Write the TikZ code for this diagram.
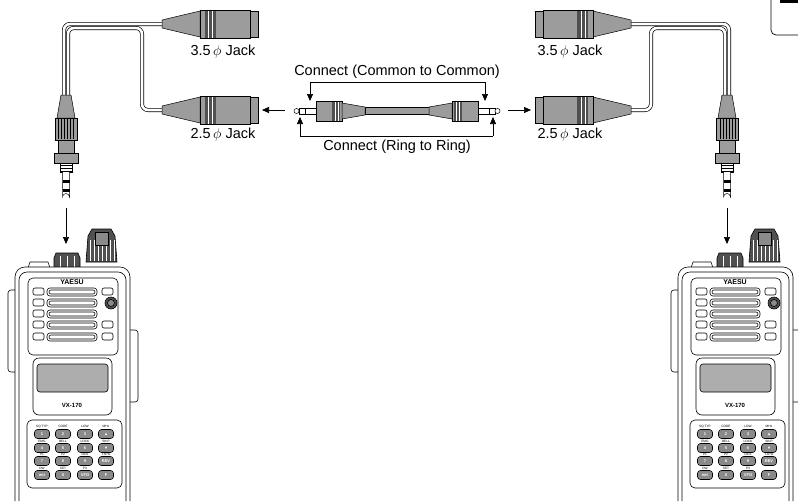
\documentclass[tikz,border=0pt]{standalone}
\usepackage{fontspec}
\setmainfont{Liberation Sans}
\usepackage{amssymb}
\usetikzlibrary{arrows.meta}
\definecolor{jg}{HTML}{9C9C9C}
\definecolor{jd}{HTML}{505050}
\definecolor{kg}{HTML}{8A8A8A}
\tikzset{
 cable/.style={draw=black,line width=0.7pt,double=white,double distance=2.6pt,rounded corners=6pt},
 part/.style={draw=black,line width=0.5pt,fill=jg},
 lab/.style={font=\fontsize{14.5}{16}\selectfont,inner sep=0pt},
 arr/.style={-{Triangle[length=7pt,width=6pt]},line width=0.7pt},
 ol/.style={draw=black,line width=0.6pt},
 key/.style={draw=black,line width=0.6pt,fill=kg,rounded corners=3pt,minimum width=15pt,minimum height=9pt,inner sep=0pt,font=\fontsize{4}{4}\selectfont\bfseries,text=white},
 klab/.style={font=\fontsize{3.2}{3}\selectfont,inner sep=0pt},
}
\newcommand\femjack[1]{% y center
 \draw[part] (162,#1-4) -- (200,#1-13) -- (200,#1+13) -- (162,#1+4) -- cycle;
 \draw[part] (200,#1-14) rectangle (250,#1+14);
 \fill[jd] (205,#1-14) rectangle (216,#1+14);
 \draw[white,line width=0.4pt] (208,#1-14)--(208,#1+14) (212,#1-14)--(212,#1+14);
 \draw[part] (250,#1-13) rectangle (258,#1+13);
 \draw[black,line width=0.5pt] (200,#1-14) rectangle (250,#1+14);
}
\newcommand\yassembly{%
 \draw[cable] (68,96) -- (68,28) -- (142,28) -- (142,110) -- (163,110);
 \draw[cable] (64,96) -- (64,24) -- (163,24);
 \femjack{24}
 \femjack{110}
 % plug
 \draw[part] (61,95) -- (71,95) -- (75,118) -- (57,118) -- cycle;
 \draw[part] (55,118) rectangle (77,140);
 \foreach \i in {58,61,...,75} \draw[line width=0.4pt] (\i,119)--(\i,139);
 \draw[part] (58,140) rectangle (74,153);
 \draw[part] (54,153) rectangle (78,163);
 \draw[line width=0.5pt,fill=white] (60,163) rectangle (72,172);
 \foreach \i in {165,168,171} \draw[line width=0.4pt] (60,\i)--(72,\i);
 \draw[line width=0.5pt,fill=white] (62.5,172) -- (62.5,197) arc[start angle=180,end angle=360,radius=3.5] -- (69.5,172);
 \fill (62.5,180) rectangle (69.5,183);
 \fill (62.5,189) rectangle (69.5,192);
 % arrows between jacks
 \draw[arr] (285,110) -- (262,110);
}
\newcommand\cplug{%
 \draw[line width=0.5pt,fill=white] (299,108) rectangle (316,114);
 \draw[line width=0.5pt,fill=white] (296.5,111) circle (2.5);
 \draw[line width=0.9pt] (305,108)--(305,114);
 \draw[part] (316,101) rectangle (342,121);
 \fill[jd] (332,101) rectangle (340,121);
 \draw[white,line width=0.4pt] (335,101)--(335,121) (338,101)--(338,121);
 \draw[line width=0.5pt] (316,101) rectangle (342,121);
 \draw[part] (342,103) -- (365,107) -- (365,115) -- (342,119) -- cycle;
}
\newcommand\radio{%
 \draw[ol,fill=jd] (88,236) -- (92,229) -- (111,229) -- (115,236) -- (117,262) -- (86,262) -- cycle;
 \foreach \i in {90,94,...,114} \draw[white,line width=0.5pt] (\i,240)--(\i,261);
 \draw[ol,fill=kg] (95,232) rectangle (108,245);
 \draw[ol,fill=jd] (54,258) -- (56,253) -- (78,253) -- (80,258) -- (80,268) -- (54,268) -- cycle;
 \draw[white,line width=0.5pt] (60,256)--(60,267) (67,256)--(67,267) (74,256)--(74,267);
 \draw[ol,fill=white] (28,268) -- (30,262) -- (48,262) -- (50,268) -- cycle;
 \draw[ol,fill=white,rounded corners=3pt] (8,290) rectangle (20,372);
 \draw[ol,fill=white,rounded corners=3pt] (126,330) rectangle (138,402);
 \draw[ol,fill=white,rounded corners=10pt] (15,501) -- (15,267) -- (130,267) -- (130,501);
 \draw[ol,rounded corners=8pt] (19,501) -- (19,272) -- (126,272) -- (126,501);
 \draw[ol,rounded corners=5pt] (28,278) rectangle (118,355);
 \node[font=\fontsize{7}{7}\selectfont\bfseries,inner sep=0pt] (ya) at (72,282) {YAESU};
 \foreach \y in {288,299,310,321,333} {
   \draw[ol,rounded corners=3pt] (47,\y) rectangle (97,\y+8);
   \draw[ol,rounded corners=2pt] (49,\y+2) rectangle (95,\y+6);
   \draw[ol,rounded corners=2pt] (33,\y) rectangle (44,\y+7);
 }
 \foreach \y in {288,321,333} \draw[ol,rounded corners=2pt] (102,\y) rectangle (113,\y+7);
 \draw[ol,fill=jd] (111,303) circle (6);
 \draw[ol,fill=kg] (111,303) circle (3.5);
 \draw[ol,rounded corners=6pt] (33,358) rectangle (112,415);
 \draw[ol,fill=kg!70,rounded corners=3pt] (37,364) rectangle (108,392);
 \node[font=\fontsize{6}{6}\selectfont\bfseries,inner sep=0pt] (vx) at (72,405) {VX-170};
 \draw[ol,rounded corners=5pt] (27,420) rectangle (122,488);
 \node[key] (k1) at (42,434) {1}; \node[key] (k2) at (63,434) {2}; \node[key] (k3) at (85,434) {3}; \node[key] (k4) at (106,434) {$\blacktriangle$};
 \node[key] (k5) at (42,448) {4}; \node[key] (k6) at (63,448) {5}; \node[key] (k7) at (85,448) {6}; \node[key] (k8) at (106,448) {$\blacktriangledown$};
 \node[key] (k9) at (42,461) {7}; \node[key] (k10) at (63,461) {8}; \node[key] (k11) at (85,461) {9}; \node[key] (k12) at (106,461) {REV};
 \node[key] (k13) at (42,475) {ent}; \node[key] (k14) at (63,475) {0}; \node[key] (k15) at (85,475) {VFO}; \node[key] (k16) at (106,475) {F};
 \node[klab] (l1) at (42,426.5) {SQ TYP}; \node[klab] (l2) at (63,426.5) {CODE}; \node[klab] (l3) at (85,426.5) {LOW}; \node[klab] (l4) at (106,426.5) {MHz};
 \node[klab] (l5) at (42,441) {EMG}; \node[klab] (l6) at (63,441) {BELL}; \node[klab] (l7) at (85,441) {LOCK}; \node[klab] (l8) at (106,441) {SKIP};
 \node[klab] (l9) at (42,454.5) {P1}; \node[klab] (l10) at (63,454.5) {P2}; \node[klab] (l11) at (85,454.5) {DCS}; \node[klab] (l12) at (106,454.5) {TXPO};
 \node[klab] (l13) at (42,468) {DW}; \node[klab] (l14) at (63,468) {SET}; \node[klab] (l15) at (85,468) {P3};
}
\begin{document}
\begin{tikzpicture}[x=1pt,y=-1pt]
\useasboundingbox (0,0) rectangle (798,501);
\fill[white] (0,0) rectangle (798,501);
\draw[line width=0.7pt,rounded corners=5pt] (771,-10) -- (771,35) -- (810,35);
\fill (780,0) rectangle (798,3);
\yassembly
\begin{scope}[xshift=793pt,xscale=-1]
 \yassembly
\end{scope}
\draw[part] (365,107.5) rectangle (429,114.5);
\cplug
\begin{scope}[xshift=794pt,xscale=-1]
 \cplug
\end{scope}
\coordinate (ctl) at (310,82); \coordinate (ctr) at (485,82);
\coordinate (cbl) at (300,136); \coordinate (cbr) at (493,136);
\coordinate (atl) at (310,101); \coordinate (atr) at (485,101);
\coordinate (abl) at (300,117); \coordinate (abr) at (493,117);
\draw[line width=0.6pt] (ctl) -- (ctr);
\draw[arr] (ctl) -- (atl);
\draw[arr] (ctr) -- (atr);
\draw[line width=0.6pt] (cbl) -- (cbr);
\draw[arr] (cbl) -- (abl);
\draw[arr] (cbr) -- (abr);
\node[lab] (tc) at (397,72) {Connect (Common to Common)};
\node[lab] (tr) at (397,147) {Connect (Ring to Ring)};
\node[lab] (j1) at (223,52) {3.5\,$\phi$ Jack};
\node[lab] (j2) at (223,135) {2.5\,$\phi$ Jack};
\node[lab] (j3) at (570,52) {3.5\,$\phi$ Jack};
\node[lab] (j4) at (570,135) {2.5\,$\phi$ Jack};
\radio
\begin{scope}[xshift=663pt]
 \radio
\end{scope}
\coordinate (da1) at (66,208); \coordinate (db1) at (66,244);
\coordinate (da2) at (727,208); \coordinate (db2) at (727,244);
\draw[arr] (da1) -- (db1);
\draw[arr] (da2) -- (db2);
\end{tikzpicture}
\end{document}
